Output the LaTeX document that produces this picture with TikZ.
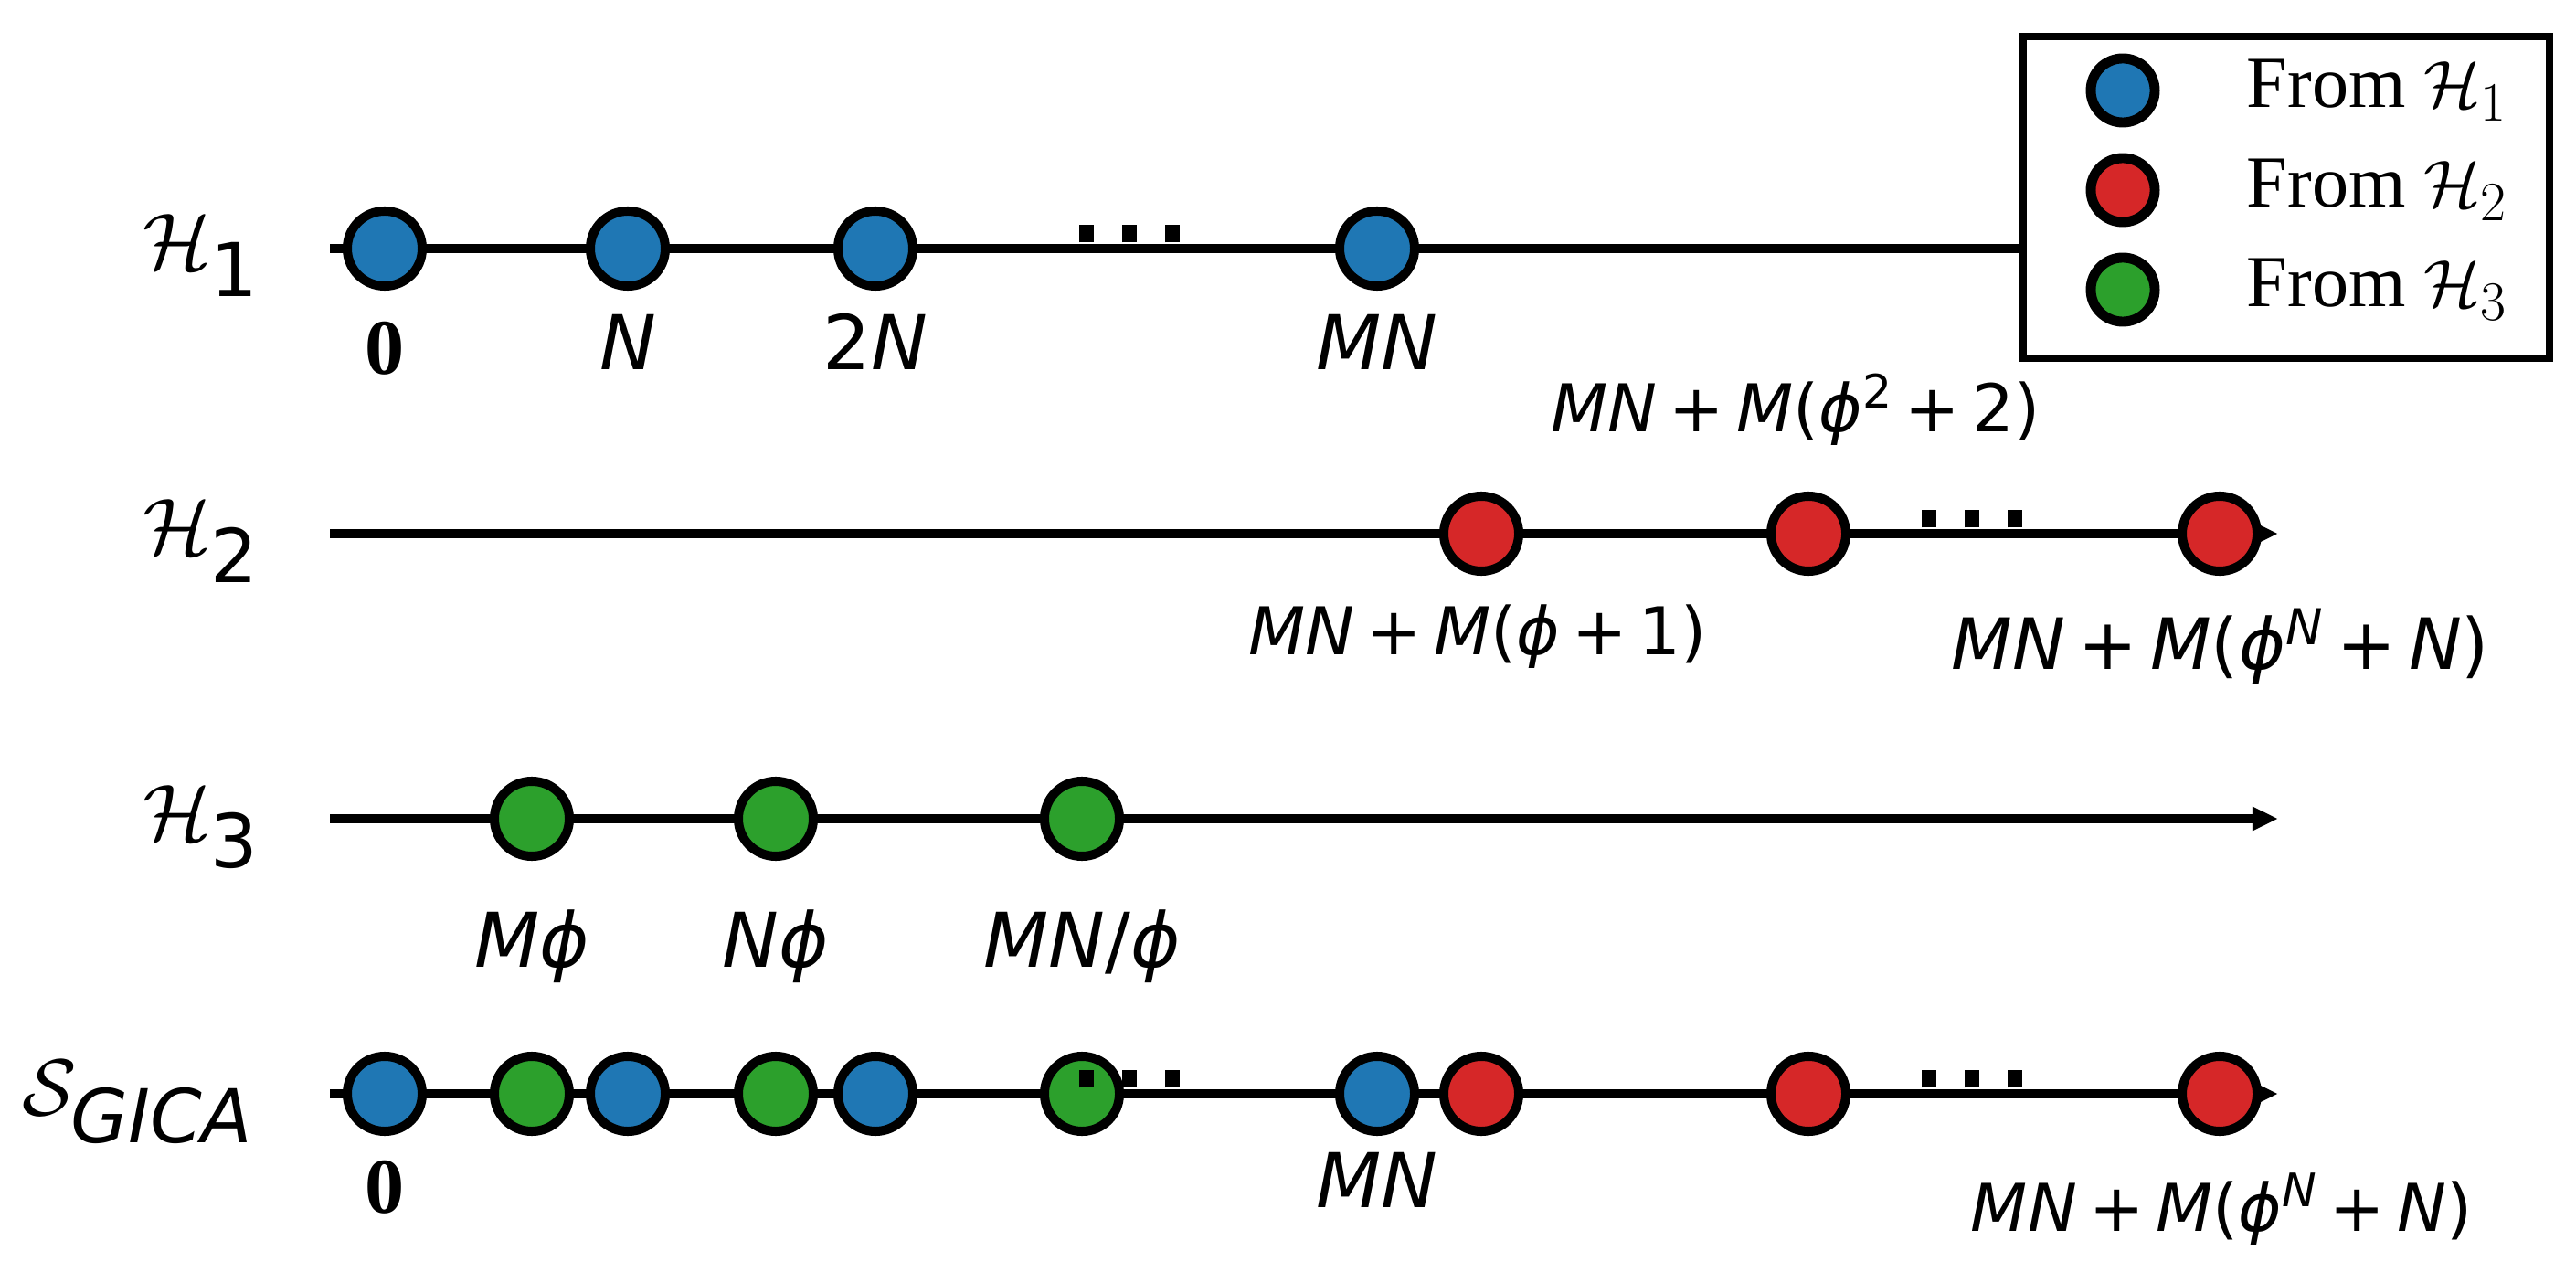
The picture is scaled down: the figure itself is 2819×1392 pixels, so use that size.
\documentclass[tikz,border=0pt]{standalone}
\usepackage{amsmath}
\usepackage{fontspec}
\usepackage{tikz}
\usetikzlibrary{arrows.meta}
\setmainfont{Liberation Serif}
\newfontfamily\djv{DejaVu Sans}
\definecolor{tabblue}{HTML}{1F77B4}
\definecolor{tabred}{HTML}{D62728}
\definecolor{tabgreen}{HTML}{2CA02C}
\newcommand{\vr}[1]{{\itshape #1}}
\newcommand{\fph}{\vr{ϕ}}
\newcommand{\pl}{\hspace{0.18em}+\hspace{0.18em}}
\newcommand{\dotrow}{\rule{4.6pt}{5.4pt}\hspace{8.8pt}\rule{4.6pt}{5.4pt}\hspace{8.8pt}\rule{4.6pt}{5.4pt}}

\begin{document}
\begin{tikzpicture}
	[x=0.01cm, y=-0.01cm,
	axis/.style={line width=3.1pt},
	arr/.style={axis, -{Triangle[length=8pt,width=7pt]}},
	hpt/.style={circle, draw, line width=2.85pt, minimum size=0.82cm, inner sep=0pt},
	from1/.style={hpt, fill=tabblue},
	from2/.style={hpt, fill=tabred},
	from3/.style={hpt, fill=tabgreen},
	keypt/.style={minimum size=0.70cm, line width=3.1pt},
	keytxt/.style={font=\fontsize{22.8}{27}\selectfont, inner sep=0pt, anchor=base west},
	rowname/.style={font=\fontsize{33}{38}\selectfont, inner sep=0pt, anchor=base east},
	lbl/.style={font=\djv\fontsize{#1}{28}\selectfont, inner sep=0pt, anchor=base},
	lbl/.default=23.5,
	zero/.style={font=\bfseries\fontsize{24.5}{28}\selectfont, inner sep=0pt, anchor=base},
	gap/.style={inner sep=0pt, anchor=south}]
	\useasboundingbox (0,0) rectangle (2819,1392);

	\node[draw, line width=2.3pt, minimum width=5.75cm, minimum height=3.51cm, inner sep=0pt] (legend) at (2502,216) {};
	\node[from1, keypt] (k1) at (2323,99) {};
	\node[from2, keypt] (k2) at (2323,208) {};
	\node[from3, keypt] (k3) at (2323,317) {};
	\node[keytxt] (t1) at (2458,118) {From $\mathcal{H}_1$};
	\node[keytxt] (t2) at (2458,227) {From $\mathcal{H}_2$};
	\node[keytxt] (t3) at (2458,336) {From $\mathcal{H}_3$};

	\coordinate (h1s) at (361,272);
	\coordinate (h2s) at (361,584);
	\coordinate (h2e) at (2493,584);
	\coordinate (h3s) at (361,896);
	\coordinate (h3e) at (2493,896);
	\coordinate (gs) at (361,1197);
	\coordinate (ge) at (2493,1197);

	\draw[axis] (h1s) -- (h1s -| legend.west);
	\draw[arr] (h2s) -- (h2e);
	\draw[arr] (h3s) -- (h3e);
	\draw[arr] (gs) -- (ge);

	\node[rowname] (n1) at (285,295) {$\mathcal{H}_{\text{\djv 1}}$};
	\node[rowname] (n2) at (285,607) {$\mathcal{H}_{\text{\djv 2}}$};
	\node[rowname] (n3) at (285,919) {$\mathcal{H}_{\text{\djv 3}}$};
	\node[rowname] (n4) at (279,1220) {$\mathcal{S}_{\text{\djv\itshape GICA}}$};

	\node[from1] (a0) at (421,272) {};
	\node[from1] (a1) at (687,272) {};
	\node[from1] (a2) at (958,272) {};
	\node[from1] (a3) at (1507,272) {};
	\node[gap] (adots) at (1236,266) {\dotrow};
	\node[zero] (la0) at (421,410) {0};
	\node[lbl] (la1) at (687,405) {\vr{N}};
	\node[lbl] (la2) at (958,405) {2\vr{N}};
	\node[lbl] (la3) at (1507,405) {\vr{MN}};

	\node[from2] (b1) at (1621,584) {};
	\node[from2] (b2) at (1979,584) {};
	\node[from2] (b3) at (2429,584) {};
	\node[gap] (bdots) at (2158,578) {\dotrow};
	\node[lbl=20.5] (lb1) at (1617,717) {\vr{MN}\pl\vr{M}(\fph\pl1)};
	\node[lbl=20.5] (lb2) at (1965,473) {\vr{MN}\pl\vr{M}(\fph\textsuperscript{2}\pl2)};
	\node[lbl=22] (lb3) at (2430,732) {\vr{MN}\pl\vr{M}(\fph\textsuperscript{\vr{N}}\pl\vr{N})};

	\node[from3] (c1) at (582,896) {};
	\node[from3] (c2) at (849,896) {};
	\node[from3] (c3) at (1184,896) {};
	\node[lbl] (lc1) at (582,1058) {\vr{M}\fph};
	\node[lbl] (lc2) at (849,1058) {\vr{N}\fph};
	\node[lbl] (lc3) at (1184,1058) {\vr{MN}/\fph};

	\node[from1] (g1) at (421,1197) {};
	\node[from3] (g2) at (582,1197) {};
	\node[from1] (g3) at (687,1197) {};
	\node[from3] (g4) at (849,1197) {};
	\node[from1] (g5) at (958,1197) {};
	\node[from3] (g6) at (1184,1197) {};
	\node[from1] (g7) at (1507,1197) {};
	\node[from2] (g8) at (1621,1197) {};
	\node[from2] (g9) at (1979,1197) {};
	\node[from2] (g10) at (2429,1197) {};
	\node[gap] (gdots1) at (1236,1191) {\dotrow};
	\node[gap] (gdots2) at (2158,1191) {\dotrow};
	\node[zero] (lg1) at (421,1327) {0};
	\node[lbl] (lg7) at (1507,1321) {\vr{MN}};
	\node[lbl=20.5] (lg10) at (2431,1347) {\vr{MN}\pl\vr{M}(\fph\textsuperscript{\vr{N}}\pl\vr{N})};
\end{tikzpicture}
\end{document}
